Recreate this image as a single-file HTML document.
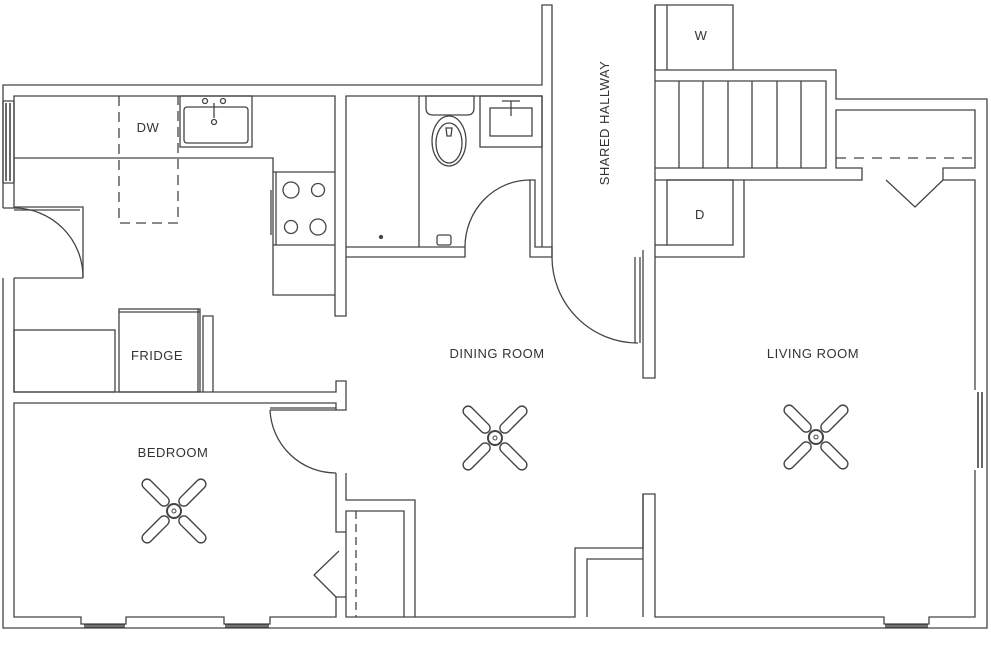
<!DOCTYPE html>
<html><head><meta charset="utf-8"><style>
html,body{margin:0;padding:0;background:#fff;width:991px;height:657px;overflow:hidden}
svg{display:block}
text{font-family:"Liberation Sans",sans-serif;font-size:13px;fill:#333;letter-spacing:0.5px}
</style></head><body>
<svg width="991" height="657" viewBox="0 0 991 657" xmlns="http://www.w3.org/2000/svg">
<defs>
<g id="fan" fill="none" stroke="#444" stroke-width="1.4">
<g id="bl"><rect x="9" y="-5" width="34" height="10" rx="5" transform="rotate(-45)"/></g>
<use href="#bl" transform="rotate(90)"/><use href="#bl" transform="rotate(180)"/><use href="#bl" transform="rotate(270)"/>
<circle r="7" fill="#fff" stroke-width="2"/><circle r="2" stroke-width="1"/>
</g>
</defs>
<g fill="none" stroke="#444" stroke-width="1.3">
<!-- outer top / hallway wall -->
<path d="M3,208 V85 H542 V5 H552 V257"/>
<path d="M14,183 V96 H335 V316 H346 V96 H542 V247"/>
<!-- left window -->
<path d="M3,101 V183 M14,101 V183 M3,101 H14 M3,183 H14" />
<path d="M6,103 V181 M10,103 V181" stroke-width="1.6"/>
<path d="M3,208 H14 V183"/>
<!-- kitchen left door -->
<path d="M14,207 H83 V278 M14,210 H80"/>
<path d="M14,208 A69,69 0 0 1 83,277"/>
<path d="M3,278 V628 H987 V99 H836 V70 H655 V5 H733 V70 M667,5 V70"/>
<path d="M14,278 H83 M14,278 V392 H336 V381 H346 V410 H336 V403 H14 V617 H81 V624 H126 V617 H224 V624 H270 V617 H336 V597 H346 V617 H575 V548 H643 V494 H655 V617 H884 V624 H929 V617 H975 V470 M975,390 V180 H943 V168 H975 V110 H836 V168 H862 V180 H744 V257 H655"/>
<path d="M84,625 H125 M225,625 H269 M885,625 H928 M84,627 H125 M225,627 H269 M885,627 H928" stroke-width="1.4"/>
<path d="M978,392 V468 M982,392 V468" stroke-width="1.6"/>
<!-- bedroom door -->
<path d="M270,410 H336 M270,408 H336"/>
<path d="M270,410 A66,66 0 0 0 336,473"/>
<path d="M336,473 V532 H346 V511 H404 V617 M346,473 V500 H415 V617 M346,532 V597"/>
<path d="M356,511 V617" stroke-dasharray="8,5"/>
<path d="M339,551 L314,575 L336,597"/>
<!-- closet right -->
<path d="M587,617 V559 H643 V617 M643,494 V617"/>
<!-- kitchen counters -->
<path d="M14,158 H273 V295 H335 M273,172 H335 M273,245 H335"/>
<path d="M119,96 V223 H178 V96" stroke-dasharray="10,6"/>
<rect x="180" y="96" width="72" height="51"/>
<rect x="184" y="107" width="64" height="36" rx="3"/>
<path d="M214,103 V118"/><circle cx="205" cy="101" r="2.5"/><circle cx="223" cy="101" r="2.5"/><circle cx="214" cy="122" r="2.5"/>
<circle cx="291" cy="190" r="8"/><circle cx="318" cy="190" r="6.5"/><circle cx="291" cy="227" r="6.5"/><circle cx="318" cy="227" r="8"/>
<path d="M271,190 V235 M276,172 V245"/>
<rect x="119" y="309" width="81" height="83"/><path d="M119,312 H200 M198,309 V392"/>
<rect x="14" y="330" width="101" height="62"/>
<path d="M203,392 V316 H213 V392"/>
<!-- bathroom -->
<path d="M419,96 V247 M346,247 H465 M346,257 H465 V247"/>
<path d="M465,247 A65,67 0 0 1 530,180 H535 V247 H552 V257 H530 V247 M530,180 V247"/>
<path d="M426,96 H474 V108 Q474,115 467,115 H433 Q426,115 426,108 Z"/>
<ellipse cx="449" cy="141" rx="17" ry="25"/><ellipse cx="449" cy="143" rx="13" ry="20"/>
<path d="M446,128 h6 l-1,8 h-4 z"/>
<rect x="480" y="96" width="62" height="51"/><rect x="490" y="108" width="42" height="28"/>
<path d="M502,101 H520 M511,101 V116"/>
<circle cx="381" cy="237" r="1.5" fill="#444"/>
<rect x="437" y="235" width="14" height="10" rx="2"/>
<!-- hallway door -->
<path d="M552,257 A86,86 0 0 0 638,343 M635,257 V343 M640,257 V343"/>
<path d="M643,250 V378 H655 V250 M655,5 V257"/>
<!-- stairs -->
<path d="M655,81 H826 V168 H655 M655,180 H744"/>
<path d="M679,81 V168 M703,81 V168 M728,81 V168 M752,81 V168 M777,81 V168 M801,81 V168"/>
<rect x="667" y="180" width="66" height="65"/>
<path d="M655,245 H667"/>
<path d="M836,158 H975" stroke-dasharray="10,8"/>
<path d="M886,180 L915,207 L943,180"/>
</g>
<use href="#fan" x="174" y="511"/>
<use href="#fan" x="495" y="438"/>
<use href="#fan" x="816" y="437"/>
<text x="148" y="132" text-anchor="middle">DW</text>
<text x="157" y="360" text-anchor="middle">FRIDGE</text>
<text x="497" y="358" text-anchor="middle">DINING ROOM</text>
<text x="813" y="358" text-anchor="middle">LIVING ROOM</text>
<text x="173" y="457" text-anchor="middle">BEDROOM</text>
<text x="701" y="40" text-anchor="middle">W</text>
<text x="700" y="219" text-anchor="middle">D</text>
<text x="0" y="0" text-anchor="middle" transform="translate(609,123) rotate(-90)">SHARED HALLWAY</text>
</svg>
</body></html>
